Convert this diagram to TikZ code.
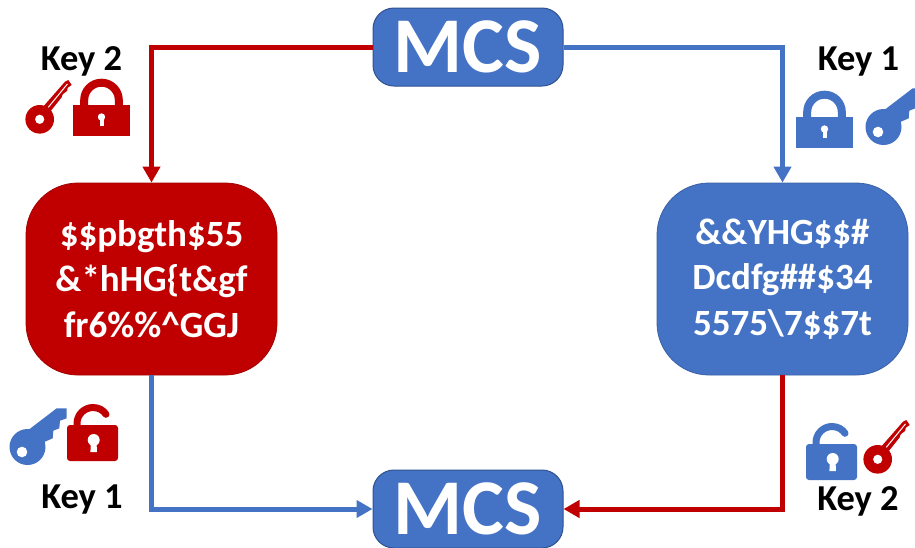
\documentclass[tikz,border=0pt]{standalone}
\usepackage{fontspec}
\setmainfont{Carlito}[Ligatures=TeX]
\definecolor{kred}{HTML}{C00000}
\definecolor{kblue}{HTML}{4472C4}
\definecolor{kbord}{HTML}{2F528F}
\tikzset{
  mcsbox/.style={draw=kbord,line width=1pt,fill=kblue,rounded corners=21pt,minimum width=190pt,minimum height=78pt,inner sep=0pt,text=white,font=\bfseries\fontsize{79}{79}\selectfont},
  codebox/.style={draw=#1!85!black,line width=0.8pt,fill=#1,rounded corners=52pt,minimum width=251pt,minimum height=192pt,inner sep=0pt,text=white,align=center,font=\bfseries\fontsize{37}{45.5}\selectfont},
  keylabel/.style={anchor=base,inner sep=0pt,text=black,font=\bfseries\fontsize{36.5}{36.5}\selectfont},
  link/.style={line width=5pt,line join=miter,-{Triangle[width=17pt,length=16pt]}},
}
\usetikzlibrary{arrows.meta}
\newcommand{\lockclosed}[3]{\begin{scope}[shift={(#1,#2)}]
  \fill[#3] (0,0) rectangle (57,31);
  \draw[#3,line width=8pt] (11.2,1) -- (11.2,-5) .. controls (11.2,-14.5) and (18.9,-22.3) .. (28.5,-22.3) .. controls (38.1,-22.3) and (45.8,-14.5) .. (45.8,-5) -- (45.8,1);
  \fill[white] (28.5,12) circle (3.7);
  \fill[white] (26.5,12) rectangle (30.5,21);
\end{scope}}
\newcommand{\lockopen}[3]{\begin{scope}[shift={(#1,#2)}]
  \fill[#3,rounded corners=3pt] (0,0) rectangle (51,36);
  \draw[#3,line width=7pt,line cap=round] (10,2) -- (10,-1.5) .. controls (10,-10.3) and (17.2,-17.5) .. (26,-17.5) .. controls (32,-17.5) and (36.5,-14.5) .. (39,-10.7);
  \fill[white] (26.7,15) circle (6);
  \fill[white] (24,15) -- (29.4,15) -- (30,27) -- (23.4,27) -- cycle;
\end{scope}}
\newcommand{\keythin}[3]{\begin{scope}[shift={(#1,#2)}]
  \fill[#3,line join=round] (2,-11) -- (25.3,-37.6) -- (28.6,-39.3) -- (32,-34.3) -- (28,-31.5) -- (27.5,-28.5) -- (23,-25) -- (22,-22) -- (10,-7) -- cycle;
  \fill[#3] (0,0) circle (14.3);
  \fill[white] (0,0) circle (4.6);
  \draw[white,line width=1pt] (8.6,-12) -- (27.8,-35.4);
\end{scope}}
\newcommand{\keybroad}[3]{\begin{scope}[shift={(#1,#2)}]
  \fill[#3] (6.3,-22) -- (34.7,-43.7) -- (44.7,-43.7) -- (44.7,-33.7) -- (38,-31.3) -- (37.3,-23.7) -- (31.3,-21.3) -- (30.7,-13.7) -- (23,-10.3) -- (14,4) -- cycle;
  \fill[#3] (5.5,-5) circle (18);
  \fill[white] (0,0) circle (5.3);
\end{scope}}
\begin{document}
\begin{tikzpicture}[x=1pt,y=-1pt]
\useasboundingbox (0,0) rectangle (915,547);
\fill[white] (0,0) rectangle (915,547);
\node[mcsbox] (top) at (468,47) {\raisebox{-2.5pt}{MCS}};
\node[mcsbox] (bot) at (468,509) {\raisebox{-2.5pt}{MCS}};
\node[codebox=kred] (red) at (151.5,279) {\$\$pbgth\$55\\\&*hHG\{t\&gf\\fr6\%\%\^{}GGJ};
\node[codebox=kblue] (blue) at (782.5,279) {\&\&YHG\$\$\#\\Dcdfg\#\#\$34\\5575\textbackslash 7\$\$7t};
\draw[link,kred] (top.west) -| (red.north);
\draw[link,kblue] (top.east) -| (blue.north);
\draw[link,kblue] (red.south) |- (bot.west);
\draw[link,kred] (blue.south) |- (bot.east);
\node[keylabel] (k2a) at (81.5,70.7) {Key 2};
\node[keylabel] (k1a) at (858.5,70.7) {Key 1};
\node[keylabel] (k1b) at (82,508) {Key 1};
\node[keylabel] (k2b) at (858,510) {Key 2};
\lockclosed{73}{105}{kred}
\keythin{39.7}{119.3}{kred}
\lockclosed{796}{117}{kblue}
\keybroad{878}{132}{kblue}
\lockopen{67}{425}{kred}
\keybroad{22}{452}{kblue}
\lockopen{806}{444}{kblue}
\keythin{877.7}{459.3}{kred}
\end{tikzpicture}
\end{document}
